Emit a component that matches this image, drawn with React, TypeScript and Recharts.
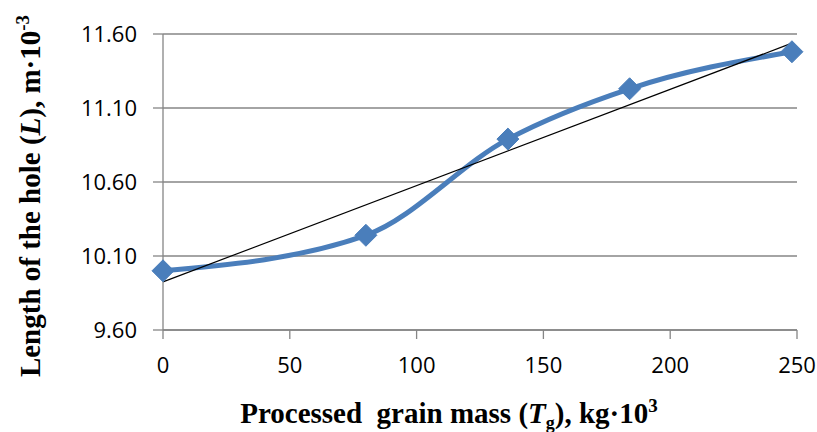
import React from 'react';
import { LineChart, Line, XAxis, YAxis, CartesianGrid, Label } from 'recharts';

// measured points (grain mass, hole length)
const massValues = [0, 80, 136, 184, 248];
const lengthValues = [10.0, 10.24, 10.89, 11.23, 11.48];
const xTicks = [0, 50, 100, 150, 200, 250];
const yTicks = [9.6, 10.1, 10.6, 11.1, 11.6];

const BLUE = '#4A7EBB';
const GRID = '#868686';

const points = massValues.map((x, i) => ({ x, y: lengthValues[i] }));

// linear trend line (least squares) across the measured range
function linearTrend(xs: number[], ys: number[]) {
  const n = xs.length;
  const mx = xs.reduce((a, b) => a + b, 0) / n;
  const my = ys.reduce((a, b) => a + b, 0) / n;
  let sxy = 0;
  let sxx = 0;
  xs.forEach((x, i) => {
    sxy += (x - mx) * (ys[i] - my);
    sxx += (x - mx) * (x - mx);
  });
  const slope = sxy / sxx;
  const icpt = my - slope * mx;
  const x0 = Math.min(...xs);
  const x1 = Math.max(...xs);
  return [
    { x: x0, y: icpt + slope * x0 },
    { x: x1, y: icpt + slope * x1 },
  ];
}

const trend = linearTrend(massValues, lengthValues);

function Diamond(props: any) {
  const { cx, cy } = props;
  if (cx == null || cy == null) return null;
  const r = 11;
  return (
    <polygon
      points={`${cx},${cy - r} ${cx + r},${cy} ${cx},${cy + r} ${cx - r},${cy}`}
      fill={BLUE}
      stroke={BLUE}
      strokeWidth={1}
    />
  );
}

const titleFont = {
  fontFamily: '"Liberation Serif", "Times New Roman", serif',
  fontWeight: 'bold' as const,
  fontSize: 29,
  fill: '#000',
};

function XTitle() {
  return (
    <text x={449} y={423} textAnchor="middle" {...titleFont}>
      <tspan>{'Processed\u00A0 grain mass ('}</tspan>
      <tspan fontStyle="italic">T</tspan>
      <tspan fontSize={18} dy={6}>g</tspan>
      <tspan dy={-6}>), kg·10</tspan>
      <tspan fontSize={19} dy={-11}>3</tspan>
    </text>
  );
}

function YTitle() {
  return (
    <text x={40} y={196} textAnchor="middle" transform="rotate(-90, 40, 196)" {...titleFont}>
      <tspan>Length of the hole (</tspan>
      <tspan fontStyle="italic">L</tspan>
      <tspan>), m·10</tspan>
      <tspan fontSize={19} dy={-11}>-3</tspan>
    </text>
  );
}

const tickStyle = { fill: '#000', fontSize: 22, fontFamily: '"Open Sans", sans-serif' };

export default function App() {
  return (
    <div style={{ position: 'fixed', left: 0, top: 0, width: 817, height: 432, background: '#fff' }}>
      <LineChart width={817} height={432} margin={{ top: 34, right: 20, bottom: 42, left: 0 }}>
        <CartesianGrid vertical={false} stroke={GRID} strokeWidth={1.3} />
        <XAxis
          dataKey="x"
          type="number"
          domain={[0, 250]}
          ticks={xTicks}
          height={60}
          stroke={GRID}
          strokeWidth={1.3}
          tickSize={9}
          tickMargin={18}
          tick={tickStyle}
          allowDuplicatedCategory={false}
        >
          <Label content={<XTitle />} />
        </XAxis>
        <YAxis
          type="number"
          domain={[9.6, 11.6]}
          ticks={yTicks}
          width={163}
          stroke={GRID}
          strokeWidth={1.3}
          tickSize={10}
          tickMargin={16}
          tick={tickStyle}
          tickFormatter={(v: number) => v.toFixed(2)}
        >
          <Label content={<YTitle />} />
        </YAxis>
        <Line
          data={points}
          dataKey="y"
          type="monotone"
          stroke={BLUE}
          strokeWidth={5}
          dot={<Diamond />}
          activeDot={false}
          isAnimationActive={false}
        />
        <Line
          data={trend}
          dataKey="y"
          type="linear"
          stroke="#000"
          strokeWidth={1.2}
          dot={false}
          activeDot={false}
          isAnimationActive={false}
        />
      </LineChart>
    </div>
  );
}
